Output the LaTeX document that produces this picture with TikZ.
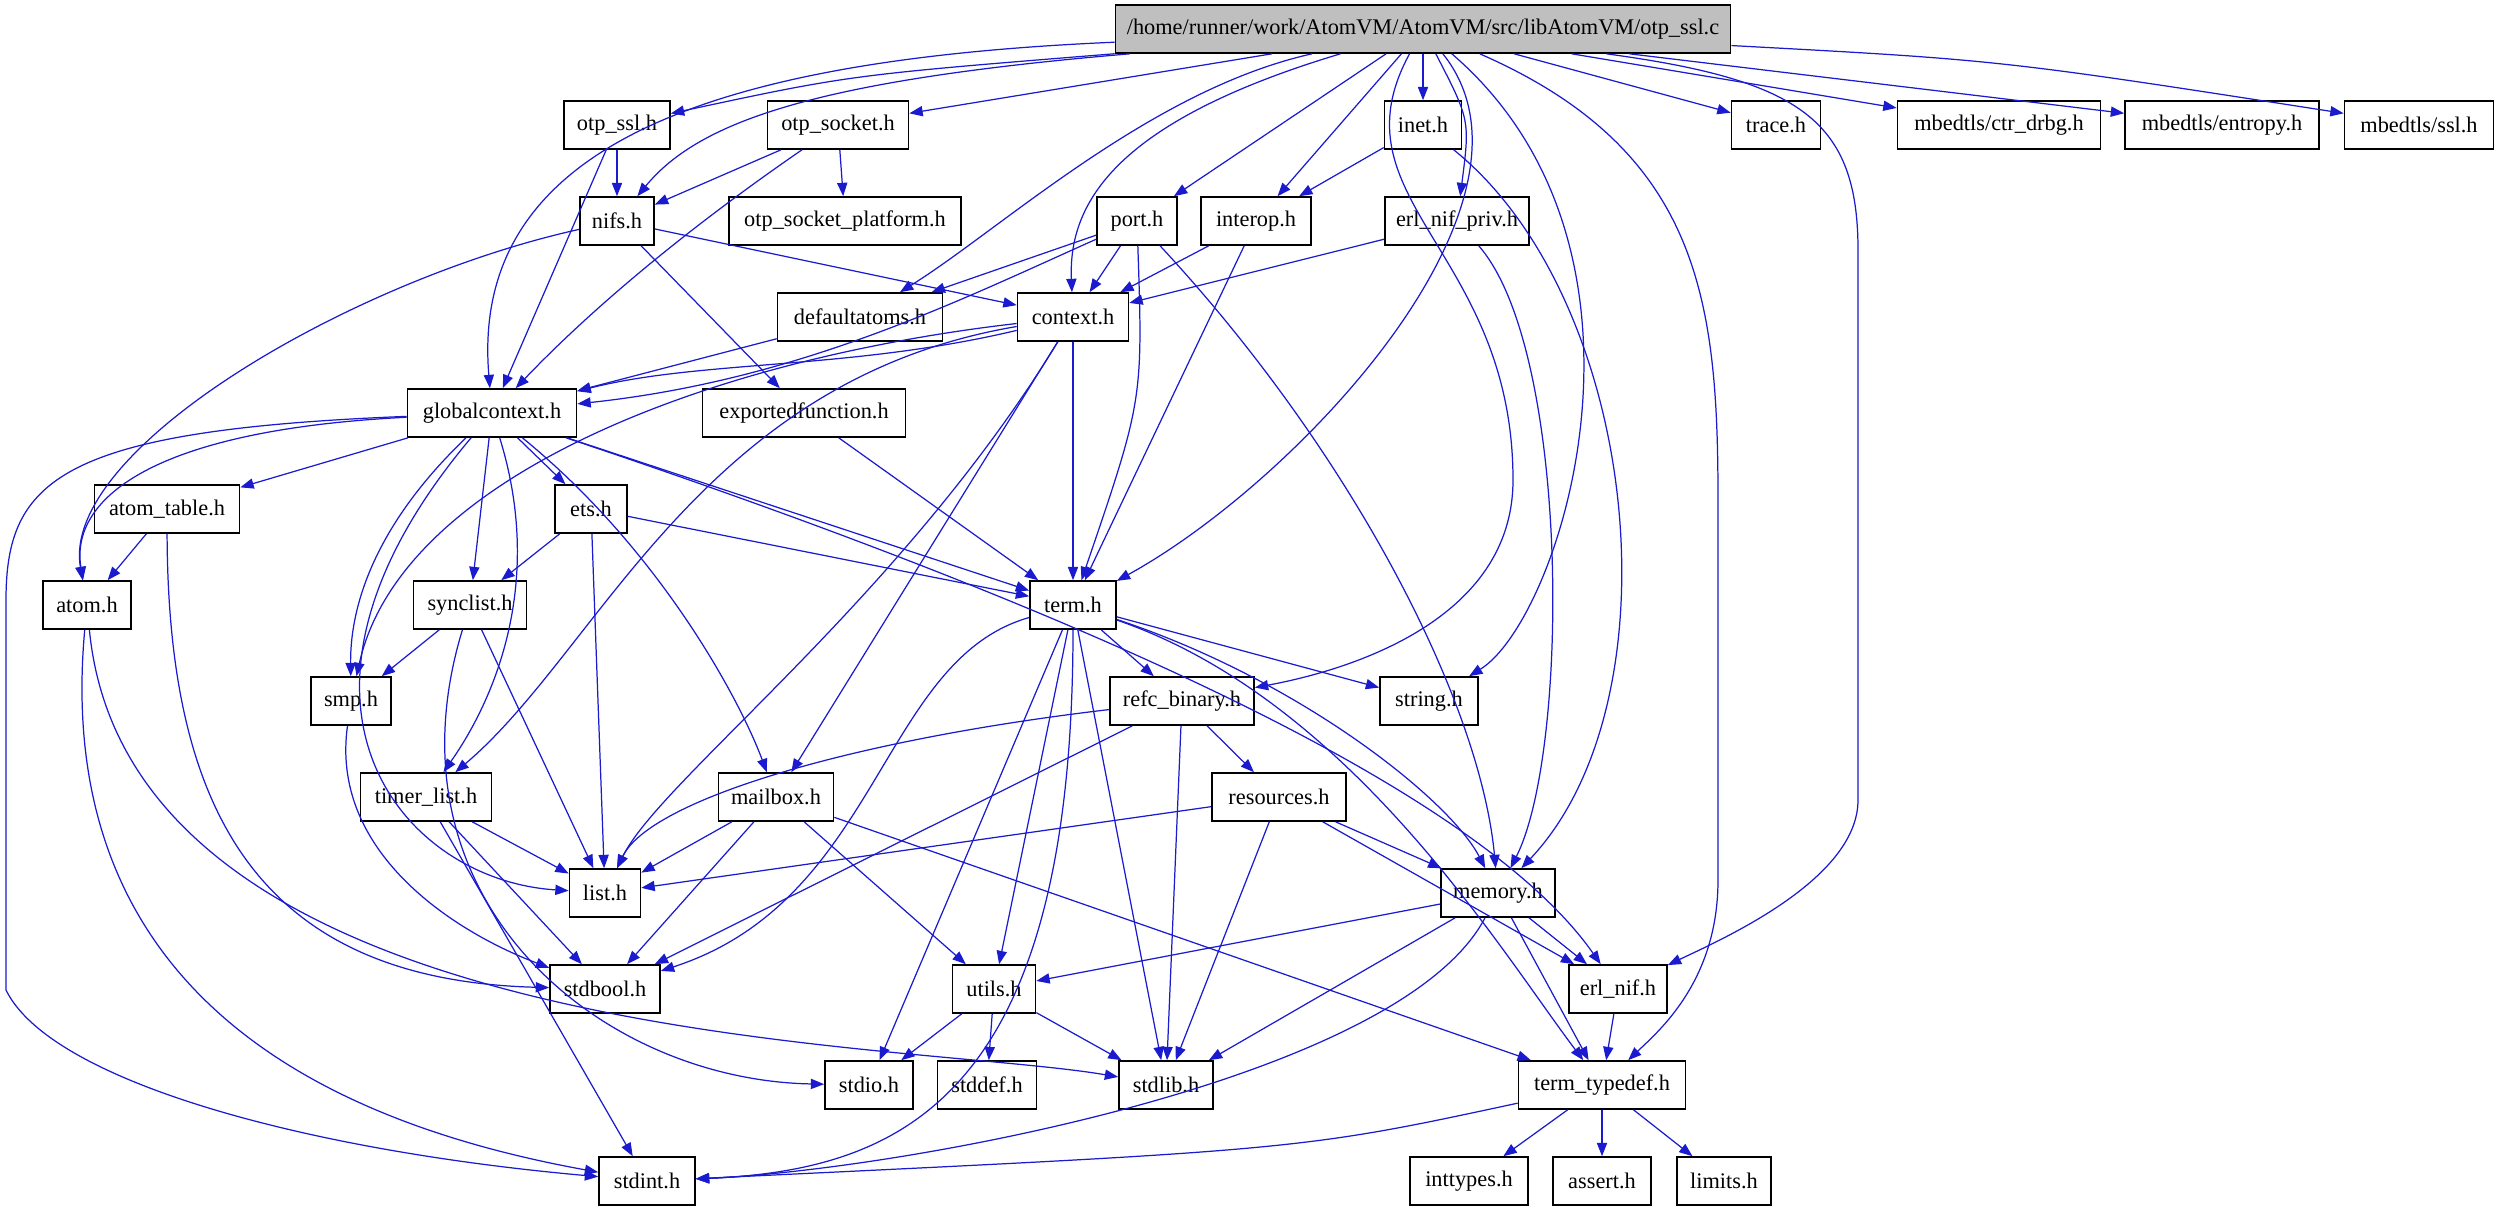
\documentclass[tikz,border=0pt]{standalone}
\usepackage{fontspec}
\setmainfont{Liberation Serif}
\usepackage{xcolor}
\usepackage{tikz}
\usetikzlibrary{arrows.meta}
\definecolor{edgeblue}{RGB}{26,26,206}
\definecolor{mainfill}{RGB}{191,191,191}
\tikzset{
  hdr/.style={draw=black,line width=0.45pt,fill=white,minimum height=0.48cm,inner sep=0pt,
    font=\fontsize{6.35}{7}\selectfont},
  dep/.style={draw=edgeblue,line width=0.35pt,-{Triangle[length=3.8pt,width=2.9pt]}}
}

\begin{document}
\begin{tikzpicture}[x=0.01cm,y=-0.01cm]
  \useasboundingbox (0,0) rectangle (2499,1211);
  % files
  \node[hdr,fill=mainfill,minimum width=6.15cm] (main) at (1423,29) {/home/runner/work/AtomVM/AtomVM/src/libAtomVM/otp\_ssl.c};
  \node[hdr,minimum width=1.06cm] (otpssl) at (617,125) {otp\_ssl.h};
  \node[hdr,minimum width=1.41cm] (otpsock) at (838,125) {otp\_socket.h};
  \node[hdr,minimum width=0.77cm] (inet) at (1423,125) {inet.h};
  \node[hdr,minimum width=0.89cm] (trace) at (1776,125) {trace.h};
  \node[hdr,minimum width=2.03cm] (ctrdrbg) at (1999,125) {mbedtls/ctr\_drbg.h};
  \node[hdr,minimum width=1.94cm] (entropy) at (2222,125) {mbedtls/entropy.h};
  \node[hdr,minimum width=1.49cm] (mbedssl) at (2419,125) {mbedtls/ssl.h};
  \node[hdr,minimum width=0.74cm] (nifs) at (617,221) {nifs.h};
  \node[hdr,minimum width=2.32cm] (sockplat) at (845,221) {otp\_socket\_platform.h};
  \node[hdr,minimum width=0.80cm] (port) at (1137,221) {port.h};
  \node[hdr,minimum width=1.10cm] (interop) at (1256,221) {interop.h};
  \node[hdr,minimum width=1.44cm] (nifpriv) at (1457,221) {erl\_nif\_priv.h};
  \node[hdr,minimum width=1.65cm] (defatoms) at (860,317) {defaultatoms.h};
  \node[hdr,minimum width=1.11cm] (context) at (1073,317) {context.h};
  \node[hdr,minimum width=1.69cm] (glbctx) at (492,413) {globalcontext.h};
  \node[hdr,minimum width=2.03cm] (expfun) at (804,413) {exportedfunction.h};
  \node[hdr,minimum width=1.45cm] (atomtab) at (167,509) {atom\_table.h};
  \node[hdr,minimum width=0.72cm] (ets) at (591,509) {ets.h};
  \node[hdr,minimum width=0.88cm] (atom) at (87,605) {atom.h};
  \node[hdr,minimum width=1.13cm] (synclist) at (470,605) {synclist.h};
  \node[hdr,minimum width=0.86cm] (term) at (1073,605) {term.h};
  \node[hdr,minimum width=0.80cm] (smp) at (351,701) {smp.h};
  \node[hdr,minimum width=1.44cm] (refc) at (1182,701) {refc\_binary.h};
  \node[hdr,minimum width=0.98cm] (string) at (1429,701) {string.h};
  \node[hdr,minimum width=1.31cm] (timerlist) at (426,797) {timer\_list.h};
  \node[hdr,minimum width=1.15cm] (mailbox) at (776,797) {mailbox.h};
  \node[hdr,minimum width=1.34cm] (resources) at (1279,797) {resources.h};
  \node[hdr,minimum width=0.71cm] (list) at (605,893) {list.h};
  \node[hdr,minimum width=1.14cm] (memory) at (1498,893) {memory.h};
  \node[hdr,minimum width=1.10cm] (stdbool) at (605,989) {stdbool.h};
  \node[hdr,minimum width=0.83cm] (utils) at (994,989) {utils.h};
  \node[hdr,minimum width=0.98cm] (erlnif) at (1618,989) {erl\_nif.h};
  \node[hdr,minimum width=0.88cm] (stdio) at (869,1085) {stdio.h};
  \node[hdr,minimum width=0.99cm] (stddef) at (987,1085) {stddef.h};
  \node[hdr,minimum width=0.94cm] (stdlib) at (1166,1085) {stdlib.h};
  \node[hdr,minimum width=1.67cm] (ttd) at (1602,1085) {term\_typedef.h};
  \node[hdr,minimum width=0.96cm] (stdint) at (647,1181) {stdint.h};
  \node[hdr,minimum width=1.18cm] (inttypes) at (1469,1181) {inttypes.h};
  \node[hdr,minimum width=0.98cm] (assert) at (1602,1181) {assert.h};
  \node[hdr,minimum width=0.94cm] (limits) at (1724,1181) {limits.h};

  % otp_ssl.c
  \draw[dep] (main) .. controls (700,60) and (470,150) .. (glbctx);
  \draw[dep] (main) .. controls (850,75) .. (otpssl);
  \draw[dep] (main) .. controls (820,80) and (700,120) .. (nifs);
  \draw[dep] (main) -- (otpsock);
  \draw[dep] (main) .. controls (1150,90) and (1000,230) .. (defatoms);
  \draw[dep] (main) .. controls (1120,120) and (1068,200) .. (context);
  \draw[dep] (main) -- (port);
  \draw[dep] (main) -- (interop);
  \draw[dep] (main) -- (inet);
  \draw[dep] (main) .. controls (1470,120) .. (nifpriv);
  \draw[dep] (main) .. controls (1560,200) and (1300,480) .. (term);
  \draw[dep] (main) .. controls (1330,200) and (1513,250) .. (1513,480)
    .. controls (1513,620) and (1350,670) .. (refc);
  \draw[dep] (main) .. controls (1680,250) and (1560,620) .. (string);
  \draw[dep] (main) .. controls (1700,150) and (1718,300) .. (1718,500) -- (1718,880)
    .. controls (1718,980) and (1660,1030) .. (ttd);
  \draw[dep] (main) .. controls (1800,80) and (1858,120) .. (1858,250) -- (1858,800)
    .. controls (1858,880) and (1720,940) .. (erlnif);
  \draw[dep] (main) -- (trace);
  \draw[dep] (main) -- (ctrdrbg);
  \draw[dep] (main) -- (entropy);
  \draw[dep] (main) .. controls (2000,60) .. (mbedssl);

  % headers
  \draw[dep] (otpssl) -- (nifs);
  \draw[dep] (otpssl) -- (glbctx);
  \draw[dep] (otpsock) -- (nifs);
  \draw[dep] (otpsock) .. controls (700,220) and (600,300) .. (glbctx);
  \draw[dep] (otpsock) -- (sockplat);
  \draw[dep] (nifs) .. controls (350,280) and (60,450) .. (atom);
  \draw[dep] (nifs) -- (context);
  \draw[dep] (nifs) -- (expfun);
  \draw[dep] (port) -- (defatoms);
  \draw[dep] (port) -- (context);
  \draw[dep] (port) .. controls (960,300) and (800,380) .. (glbctx);
  \draw[dep] (port) .. controls (1143,400) .. (term);
  \draw[dep] (port) .. controls (1350,450) and (1480,700) .. (memory);
  \draw[dep] (interop) -- (context);
  \draw[dep] (interop) -- (term);
  \draw[dep] (inet) -- (interop);
  \draw[dep] (inet) .. controls (1640,300) and (1680,700) .. (memory);
  \draw[dep] (nifpriv) -- (context);
  \draw[dep] (nifpriv) .. controls (1570,350) and (1570,750) .. (memory);
  \draw[dep] (defatoms) -- (glbctx);
  \draw[dep] (context) .. controls (850,370) and (700,360) .. (glbctx);
  \draw[dep] (context) .. controls (700,360) and (400,480) .. (smp);
  \draw[dep] (context) .. controls (700,380) and (600,650) .. (timerlist);
  \draw[dep] (context) -- (mailbox);
  \draw[dep] (context) .. controls (900,600) and (660,780) .. (list);
  \draw[dep] (context) -- (term);
  \draw[dep] (glbctx) -- (atomtab);
  \draw[dep] (glbctx) .. controls (150,430) and (70,500) .. (atom);
  \draw[dep] (glbctx) .. controls (60,430) and (6,480) .. (6,600) -- (6,990)
    .. controls (50,1080) and (300,1150) .. (stdint);
  \draw[dep] (glbctx) .. controls (380,520) and (350,600) .. (smp);
  \draw[dep] (glbctx) .. controls (550,600) and (480,720) .. (timerlist);
  \draw[dep] (glbctx) -- (synclist);
  \draw[dep] (glbctx) -- (ets);
  \draw[dep] (glbctx) .. controls (660,550) and (740,700) .. (mailbox);
  \draw[dep] (glbctx) -- (term);
  \draw[dep] (glbctx) .. controls (1200,650) and (1500,820) .. (erlnif);
  \draw[dep] (glbctx) .. controls (250,700) and (400,880) .. (list);
  \draw[dep] (expfun) -- (term);
  \draw[dep] (atomtab) -- (atom);
  \draw[dep] (atomtab) .. controls (168,800) and (250,980) .. (stdbool);
  \draw[dep] (ets) -- (synclist);
  \draw[dep] (ets) -- (term);
  \draw[dep] (ets) -- (list);
  \draw[dep] (atom) .. controls (60,900) and (200,1100) .. (stdint);
  \draw[dep] (atom) .. controls (130,1050) and (900,1040) .. (stdlib);
  \draw[dep] (synclist) -- (smp);
  \draw[dep] (synclist) -- (list);
  \draw[dep] (synclist) .. controls (380,900) and (600,1080) .. (stdio);
  \draw[dep] (smp) .. controls (330,850) and (450,930) .. (stdbool);
  \draw[dep] (term) -- (refc);
  \draw[dep] (term) -- (string);
  \draw[dep] (term) .. controls (1300,680) and (1450,800) .. (memory);
  \draw[dep] (term) .. controls (1350,700) and (1500,950) .. (ttd);
  \draw[dep] (term) .. controls (880,660) and (880,900) .. (stdbool);
  \draw[dep] (term) -- (stdio);
  \draw[dep] (term) -- (utils);
  \draw[dep] (term) .. controls (1073,1100) and (900,1170) .. (stdint);
  \draw[dep] (term) -- (stdlib);
  \draw[dep] (refc) .. controls (850,740) and (650,800) .. (list);
  \draw[dep] (refc) -- (stdbool);
  \draw[dep] (refc) -- (stdlib);
  \draw[dep] (refc) -- (resources);
  \draw[dep] (timerlist) -- (list);
  \draw[dep] (timerlist) -- (stdbool);
  \draw[dep] (timerlist) -- (stdint);
  \draw[dep] (mailbox) -- (list);
  \draw[dep] (mailbox) -- (stdbool);
  \draw[dep] (mailbox) -- (utils);
  \draw[dep] (mailbox) -- (ttd);
  \draw[dep] (resources) -- (list);
  \draw[dep] (resources) -- (memory);
  \draw[dep] (resources) -- (erlnif);
  \draw[dep] (resources) -- (stdlib);
  \draw[dep] (memory) -- (utils);
  \draw[dep] (memory) -- (stdlib);
  \draw[dep] (memory) .. controls (1400,1080) and (900,1170) .. (stdint);
  \draw[dep] (memory) -- (erlnif);
  \draw[dep] (memory) -- (ttd);
  \draw[dep] (erlnif) -- (ttd);
  \draw[dep] (utils) -- (stdio);
  \draw[dep] (utils) -- (stddef);
  \draw[dep] (utils) -- (stdlib);
  \draw[dep] (ttd) .. controls (1300,1150) .. (stdint);
  \draw[dep] (ttd) -- (inttypes);
  \draw[dep] (ttd) -- (assert);
  \draw[dep] (ttd) -- (limits);
\end{tikzpicture}
\end{document}
